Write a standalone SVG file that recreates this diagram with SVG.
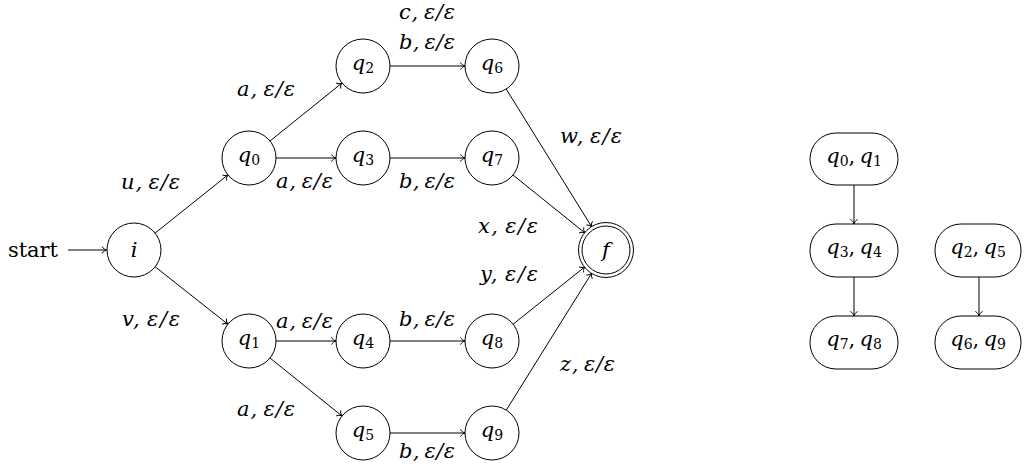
<svg xmlns="http://www.w3.org/2000/svg" width="1024" height="470" viewBox="0 0 1024 470">
  <style>
    .st { fill: #fff; stroke: #000; stroke-width: 1; }
    .edge { fill: none; stroke: #000; stroke-width: 1; marker-end: url(#tip); }
    .nm { text-anchor: middle; font-style: italic; }
    .sub { font-style: normal; font-size: 14px; }
    .lbl { text-anchor: middle; font-style: italic; }
    .rm { font-style: normal; }
  </style>
  <defs>
    <marker id="tip" viewBox="-6 -5 8 10" refX="0" refY="0" markerWidth="8" markerHeight="10" markerUnits="userSpaceOnUse" orient="auto" overflow="visible">
      <path d="M -4.5,-3.6 C -3.6,-1.6 -1.2,-0.3 0,0 C -1.2,0.3 -3.6,1.6 -4.5,3.6" fill="none" stroke="#000" stroke-width="1"/>
    </marker>
  </defs>

  <!-- transitions -->
  <g id="connectors">
    <line class="edge" x1="68" y1="250" x2="106.5" y2="250"/>
    <line class="edge" x1="155.1" y1="233.1" x2="227.9" y2="174.9"/>
    <line class="edge" x1="155.2" y1="266.8" x2="227.8" y2="324.2"/>
    <line class="edge" x1="270.0" y1="141.0" x2="342.0" y2="83.0"/>
    <line class="edge" x1="276" y1="158" x2="336" y2="158"/>
    <line class="edge" x1="276" y1="341" x2="336" y2="341"/>
    <line class="edge" x1="270.0" y1="358.0" x2="342.0" y2="416.0"/>
    <line class="edge" x1="390" y1="66" x2="465" y2="66"/>
    <line class="edge" x1="390" y1="158" x2="465" y2="158"/>
    <line class="edge" x1="390" y1="341" x2="465" y2="341"/>
    <line class="edge" x1="390" y1="433" x2="465" y2="433"/>
    <line class="edge" x1="506.2" y1="89.0" x2="591.8" y2="227.0"/>
    <line class="edge" x1="513.0" y1="175.0" x2="585.0" y2="233.0"/>
    <line class="edge" x1="513.1" y1="324.2" x2="584.9" y2="266.8"/>
    <line class="edge" x1="506.3" y1="410.1" x2="591.7" y2="273.1"/>
    <!-- merged-state graph -->
    <line class="edge" x1="854" y1="185" x2="854" y2="224"/>
    <line class="edge" x1="854" y1="277" x2="854" y2="316"/>
    <line class="edge" x1="979" y1="277" x2="979" y2="316"/>
  </g>

  <g font-family="'DejaVu Serif', serif" font-size="21" fill="#000">
  <!-- transition labels -->
  <g id="labels">
    <text class="rm" x="8" y="257" textLength="50" lengthAdjust="spacing">start</text>
    <text class="lbl" x="150.5" y="189" textLength="59">u,&#8201;ε/ε</text>
    <text class="lbl" x="151" y="326" textLength="58">v,&#8201;ε/ε</text>
    <text class="lbl" x="266" y="96" textLength="58">a,&#8201;ε/ε</text>
    <text class="lbl" x="304.5" y="188" textLength="57">a,&#8201;ε/ε</text>
    <text class="lbl" x="304.5" y="328" textLength="57">a,&#8201;ε/ε</text>
    <text class="lbl" x="266" y="416" textLength="58">a,&#8201;ε/ε</text>
    <text class="lbl" x="427" y="19" textLength="56">c,&#8201;ε/ε</text>
    <text class="lbl" x="427" y="49" textLength="56">b,&#8201;ε/ε</text>
    <text class="lbl" x="427" y="188" textLength="56">b,&#8201;ε/ε</text>
    <text class="lbl" x="427" y="326" textLength="56">b,&#8201;ε/ε</text>
    <text class="lbl" x="427" y="458" textLength="56">b,&#8201;ε/ε</text>
    <text class="lbl" x="591" y="143" textLength="62">w,&#8201;ε/ε</text>
    <text class="lbl" x="508" y="233" textLength="60">x,&#8201;ε/ε</text>
    <text class="lbl" x="509" y="281" textLength="58">y,&#8201;ε/ε</text>
    <text class="lbl" x="587.5" y="371" textLength="55">z,&#8201;ε/ε</text>
  </g>

  <!-- states -->
  <g id="i"><circle class="st" cx="134" cy="250" r="27"/><text class="nm" x="134" y="257">i</text></g>
  <g id="q0"><circle class="st" cx="249" cy="158" r="27"/><text class="nm" x="249" y="162">q<tspan class="sub" dy="3">0</tspan></text></g>
  <g id="q1"><circle class="st" cx="249" cy="341" r="27"/><text class="nm" x="249" y="345">q<tspan class="sub" dy="3">1</tspan></text></g>
  <g id="q2"><circle class="st" cx="363" cy="66" r="27"/><text class="nm" x="363" y="70">q<tspan class="sub" dy="3">2</tspan></text></g>
  <g id="q3"><circle class="st" cx="363" cy="158" r="27"/><text class="nm" x="363" y="162">q<tspan class="sub" dy="3">3</tspan></text></g>
  <g id="q4"><circle class="st" cx="363" cy="341" r="27"/><text class="nm" x="363" y="345">q<tspan class="sub" dy="3">4</tspan></text></g>
  <g id="q5"><circle class="st" cx="363" cy="433" r="27"/><text class="nm" x="363" y="437">q<tspan class="sub" dy="3">5</tspan></text></g>
  <g id="q6"><circle class="st" cx="492" cy="66" r="27"/><text class="nm" x="492" y="70">q<tspan class="sub" dy="3">6</tspan></text></g>
  <g id="q7"><circle class="st" cx="492" cy="158" r="27"/><text class="nm" x="492" y="162">q<tspan class="sub" dy="3">7</tspan></text></g>
  <g id="q8"><circle class="st" cx="492" cy="341" r="27"/><text class="nm" x="492" y="345">q<tspan class="sub" dy="3">8</tspan></text></g>
  <g id="q9"><circle class="st" cx="492" cy="433" r="27"/><text class="nm" x="492" y="437">q<tspan class="sub" dy="3">9</tspan></text></g>
  <g id="f">
    <circle class="st" cx="606" cy="250" r="27.5"/>
    <circle class="st" cx="606" cy="250" r="24"/>
    <text class="nm" x="606" y="257">f</text>
  </g>

  <!-- merged states -->
  <g id="m01"><rect class="st" x="810" y="133" width="88" height="52" rx="26"/><text class="nm" x="854" y="163">q<tspan class="sub" dy="3">0</tspan><tspan dy="-3" class="rm">,&#8201;</tspan>q<tspan class="sub" dy="3">1</tspan></text></g>
  <g id="m34"><rect class="st" x="810" y="224" width="88" height="53" rx="26"/><text class="nm" x="854" y="254">q<tspan class="sub" dy="3">3</tspan><tspan dy="-3" class="rm">,&#8201;</tspan>q<tspan class="sub" dy="3">4</tspan></text></g>
  <g id="m78"><rect class="st" x="810" y="316" width="88" height="53" rx="26"/><text class="nm" x="854" y="346">q<tspan class="sub" dy="3">7</tspan><tspan dy="-3" class="rm">,&#8201;</tspan>q<tspan class="sub" dy="3">8</tspan></text></g>
  <g id="m25"><rect class="st" x="935" y="224" width="86" height="53" rx="26"/><text class="nm" x="978" y="254">q<tspan class="sub" dy="3">2</tspan><tspan dy="-3" class="rm">,&#8201;</tspan>q<tspan class="sub" dy="3">5</tspan></text></g>
  <g id="m69"><rect class="st" x="935" y="316" width="86" height="53" rx="26"/><text class="nm" x="978" y="346">q<tspan class="sub" dy="3">6</tspan><tspan dy="-3" class="rm">,&#8201;</tspan>q<tspan class="sub" dy="3">9</tspan></text></g>
  </g>
</svg>
